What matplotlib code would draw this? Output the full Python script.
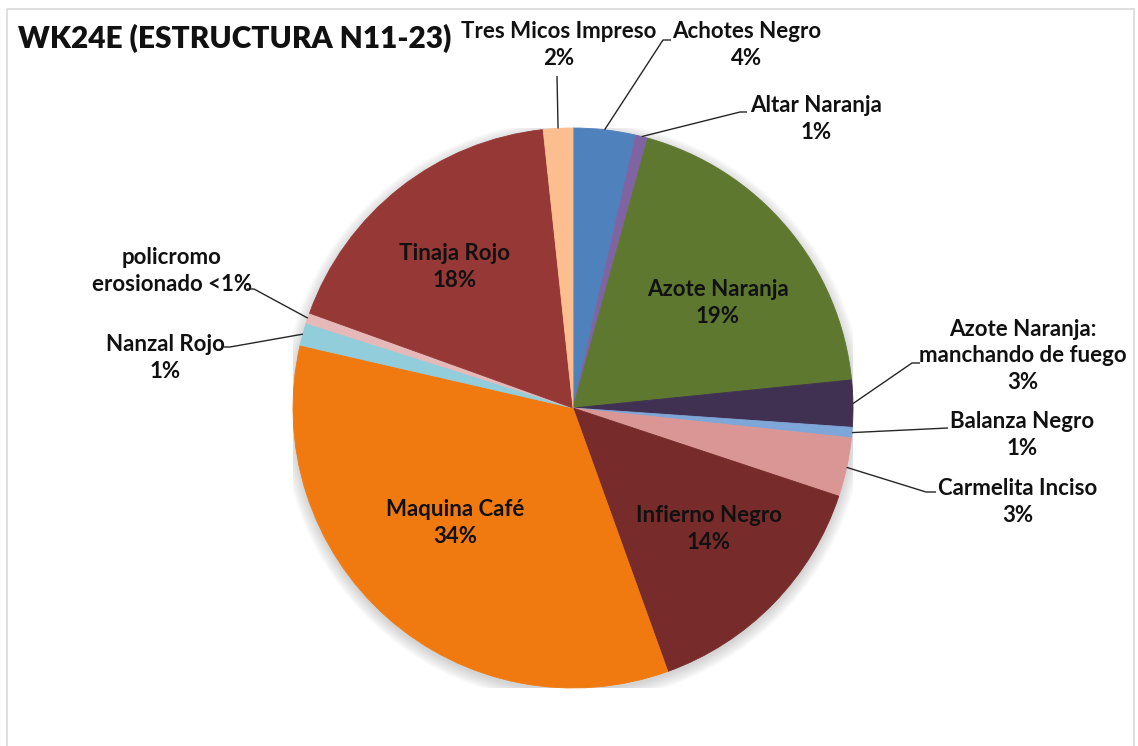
import matplotlib
matplotlib.use("Agg")
import matplotlib.pyplot as plt
from matplotlib.patches import Circle, Rectangle
import numpy as np

# Ceramic types found in WK24E, share of sherds (%)
categories = [
    "Achotes Negro",
    "Altar Naranja",
    "Azote Naranja",
    "Azote Naranja:\nmanchando de fuego",
    "Balanza Negro",
    "Carmelita Inciso",
    "Infierno Negro",
    "Maquina Café",
    "Nanzal Rojo",
    "policromo\nerosionado",
    "Tinaja Rojo",
    "Tres Micos Impreso",
]
shares = [3.6, 0.7, 19.1, 2.7, 0.6, 3.4, 14.4, 34.1, 1.3, 0.6, 17.8, 1.7]
below_one = [False] * 9 + [True, False, False]

colors = [
    "#4F81BD", "#8064A2", "#5E7830", "#403152", "#7FA6D8", "#DA9694",
    "#772B2A", "#F07A10", "#92CDDC", "#E6B9B8", "#963836", "#FBBF8F",
]

FONT = ["Lato", "DejaVu Sans"]
W, H = 1138, 746
fig = plt.figure(figsize=(W / 100, H / 100), dpi=100)
fig.patch.set_facecolor("white")

# Pie axes: centre (573, 408) px, radius 280 px
cx, cy, R = 573, 408, 280
pax = fig.add_axes([(cx - R) / W, (H - cy - R) / H, 2 * R / W, 2 * R / H])

wedges, _ = pax.pie(shares, colors=colors, startangle=90, counterclock=False,
                    radius=1.0, wedgeprops=dict(linewidth=0.6, zorder=2))
for w, c in zip(wedges, colors):
    w.set_edgecolor(c)

# soft drop shadow under the pie
for i in range(10):
    pax.add_patch(Circle((0, -0.012), 1.0 + 0.0045 * i, color="#808080",
                         alpha=0.035, lw=0, zorder=0))

pax.set_xlim(-1, 1)
pax.set_ylim(-1, 1)
pax.set_aspect("equal")
pax.axis("off")

# Overlay in pixel coordinates (y down) for labels and leader lines
ov = fig.add_axes([0, 0, 1, 1], zorder=5)
ov.set_xlim(0, W)
ov.set_ylim(H, 0)
ov.axis("off")
ov.patch.set_alpha(0)

# chart frame
ov.add_patch(Rectangle((7, 9), 1127, 745, fill=False, ec="#D9D9D9", lw=1.2))

ov.text(18, 38, "WK24E (ESTRUCTURA N11-23)", fontsize=21.5, fontweight="heavy",
        family=FONT, ha="left", va="center", color="#111111")


def pct_text(v, small):
    return "<1%" if small else f"{round(v):.0f}%"


def edge_point(w):
    a = np.deg2rad((w.theta1 + w.theta2) / 2)
    disp = pax.transData.transform((np.cos(a), np.sin(a)))
    return ov.transData.inverted().transform(disp)


# label block centres (px) and leader elbow / end points
label_pos = {
    0: (747, 45), 1: (816, 119), 2: (718, 303), 3: (1023, 356),
    4: (1022, 435), 5: (1018, 502), 6: (709, 529), 7: (455, 523),
    8: (165, 358), 9: (172, 271), 10: (455, 267), 11: (559, 45),
}
leaders = {
    0: [(663, 40), (671, 40)],
    1: [(740, 112), (747, 112)],
    3: [(912, 363), (920, 363)],
    4: [(948, 428)],
    5: [(926, 492), (936, 492)],
    8: [(230, 347), (224, 347)],
    9: [(254, 289), (247, 289)],
    11: [(557, 76)],
}

for i, (name, v, small) in enumerate(zip(categories, shares, below_one)):
    if small:
        txt = name + " " + pct_text(v, small)
    else:
        txt = name + "\n" + pct_text(v, small)
    x, y = label_pos[i]
    ov.text(x, y, txt, fontsize=16, fontweight="bold", family=FONT,
            ha="center", va="center", linespacing=1.3, color="#111111")
    if i in leaders:
        sx, sy = edge_point(wedges[i])
        pts = [(sx, sy)] + leaders[i]
        xs, ys = zip(*pts)
        ov.plot(xs, ys, color="#262626", lw=1.0, solid_capstyle="butt")

fig.savefig("out.png", dpi=100, facecolor="white")
